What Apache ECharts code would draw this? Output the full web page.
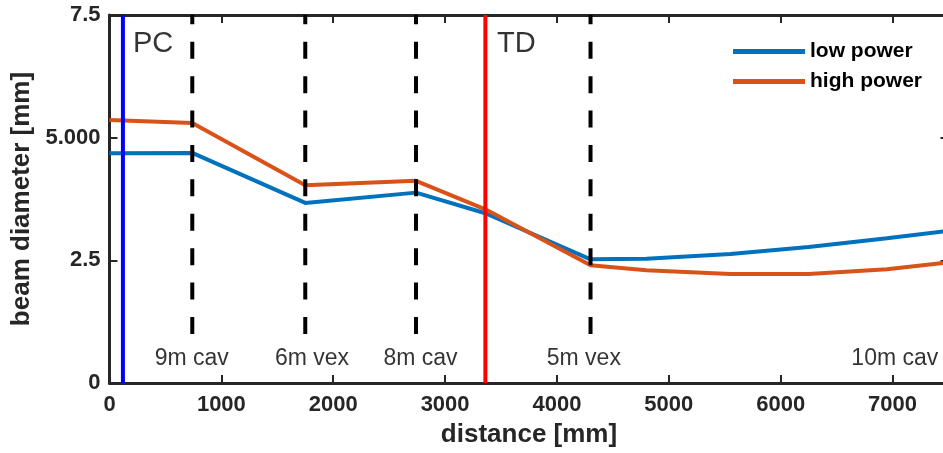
<!DOCTYPE html>
<html>
<head>
<meta charset="utf-8">
<script src="https://cdn.jsdelivr.net/npm/echarts@6/dist/echarts.min.js"></script>
<style>
  html, body { margin: 0; padding: 0; background: #fff; }
  #chart { width: 943px; height: 453px; }
</style>
</head>
<body>
<div id="chart"></div>
<script>
// Beam diameter along the optical path
const distance  = [0, 740, 1750, 2740, 3360, 4300, 4800, 5550, 6250, 6950, 7500];
const lowPower  = [4.68, 4.69, 3.67, 3.88, 3.46, 2.52, 2.53, 2.63, 2.77, 2.95, 3.10];
const highPower = [5.36, 5.30, 4.03, 4.12, 3.54, 2.40, 2.30, 2.22, 2.22, 2.32, 2.46];

// Pockels cell and thin-disk positions (solid markers)
const pcPosition = 120;
const tdPosition = 3360;
const stationNames = ['PC', 'TD'];
const stationLabelX = [210, 3465];

// Curved mirrors (dashed markers) and their captions
const opticPositions = [740, 1750, 2740, 4300];
const opticLabels = ['9m cav', '6m vex', '8m cav', '5m vex', '10m cav'];
const opticLabelX = [735, 1810, 2780, 4240, 7020];

const yTicks = [0, 2.5, 5, 7.5];
const yTickText = ['0', '2.5', '5.000', '7.5'];

const FONT = '"Liberation Sans", Arial, Helvetica, sans-serif';
const AXIS = '#262626';

const xy = (xs, ys) => xs.map((x, i) => [x, ys[i]]);

const series = [
  {
    name: 'low power', type: 'line', data: xy(distance, lowPower),
    showSymbol: false, symbol: 'none', z: 3,
    lineStyle: { color: '#0072BD', width: 4 }, itemStyle: { color: '#0072BD' }
  },
  {
    name: 'high power', type: 'line', data: xy(distance, highPower),
    showSymbol: false, symbol: 'none', z: 3,
    lineStyle: { color: '#D95319', width: 4 }, itemStyle: { color: '#D95319' }
  }
];

opticPositions.forEach(x => {
  series.push({
    type: 'line', data: [[x, 1], [x, 7.5]], symbol: 'none', z: 4, silent: true,
    lineStyle: { color: '#000', width: 4, type: [17, 17.4] }
  });
});

[[pcPosition, '#0000FF'], [tdPosition, '#FF0000']].forEach(([x, c]) => {
  series.push({
    type: 'line', data: [[x, 0], [x, 7.5]], symbol: 'none', z: 5, silent: true,
    lineStyle: { color: c, width: 4 }
  });
});

series.push({
  type: 'scatter', symbolSize: 0, silent: true, z: 6,
  data: stationNames.map((n, i) => ({ value: [stationLabelX[i], 6.9], name: n })),
  label: {
    show: true, position: 'inside', align: 'left', verticalAlign: 'middle',
    formatter: p => p.name, color: '#000', fontFamily: FONT, fontSize: 29
  }
});

series.push({
  type: 'scatter', symbolSize: 0, silent: true, z: 6,
  data: opticLabels.map((n, i) => ({ value: [opticLabelX[i], 0.5], name: n })),
  label: {
    show: true, position: 'inside', align: 'center', verticalAlign: 'middle',
    formatter: p => p.name, color: '#000', fontFamily: FONT, fontSize: 23
  }
});

const tickStyle = { show: true, inside: true, length: 8, lineStyle: { color: AXIS, width: 2 } };
const lineStyle = { show: true, onZero: false, lineStyle: { color: AXIS, width: 3 } };

const chart = echarts.init(document.getElementById('chart'), null, { renderer: 'canvas' });
chart.setOption({
  animation: false,
  backgroundColor: '#fff',
  grid: { left: 109.5, top: 15, width: 839, height: 368, containLabel: false, outerBoundsMode: 'none' },
  legend: {
    data: ['low power', 'high power'],
    orient: 'vertical', left: 733, top: 41, itemGap: 9, padding: 0,
    icon: 'rect', itemWidth: 72, itemHeight: 5,
    textStyle: { fontFamily: FONT, fontSize: 21, fontWeight: 'bold', color: '#000' }
  },
  xAxis: [
    {
      type: 'value', min: 0, max: 7500, interval: 1000, position: 'bottom',
      axisLine: lineStyle, axisTick: tickStyle, splitLine: { show: false },
      axisLabel: { color: AXIS, fontFamily: FONT, fontSize: 22, fontWeight: 'bold', margin: 11,
        showMaxLabel: false, formatter: v => String(v) },
      name: 'distance [mm]', nameLocation: 'middle', nameGap: 39,
      nameTextStyle: { color: AXIS, fontFamily: FONT, fontSize: 26, fontWeight: 'bold' }
    },
    {
      type: 'value', min: 0, max: 7500, interval: 1000, position: 'top',
      axisLine: lineStyle, axisTick: tickStyle, axisLabel: { show: false }, splitLine: { show: false }
    }
  ],
  yAxis: [
    {
      type: 'value', min: 0, max: 7.5, interval: 2.5, position: 'left',
      axisLine: lineStyle, axisTick: tickStyle, splitLine: { show: false },
      axisLabel: { color: AXIS, fontFamily: FONT, fontSize: 22, fontWeight: 'bold', margin: 9,
        formatter: v => yTickText[yTicks.indexOf(v)] ?? String(v) },
      name: 'beam diameter [mm]', nameLocation: 'middle', nameGap: 73,
      nameTextStyle: { color: AXIS, fontFamily: FONT, fontSize: 26, fontWeight: 'bold' }
    },
    {
      type: 'value', min: 0, max: 7.5, interval: 2.5, position: 'right',
      axisLine: lineStyle, axisTick: tickStyle, axisLabel: { show: false }, splitLine: { show: false }
    }
  ],
  series: series
});
</script>
</body>
</html>
